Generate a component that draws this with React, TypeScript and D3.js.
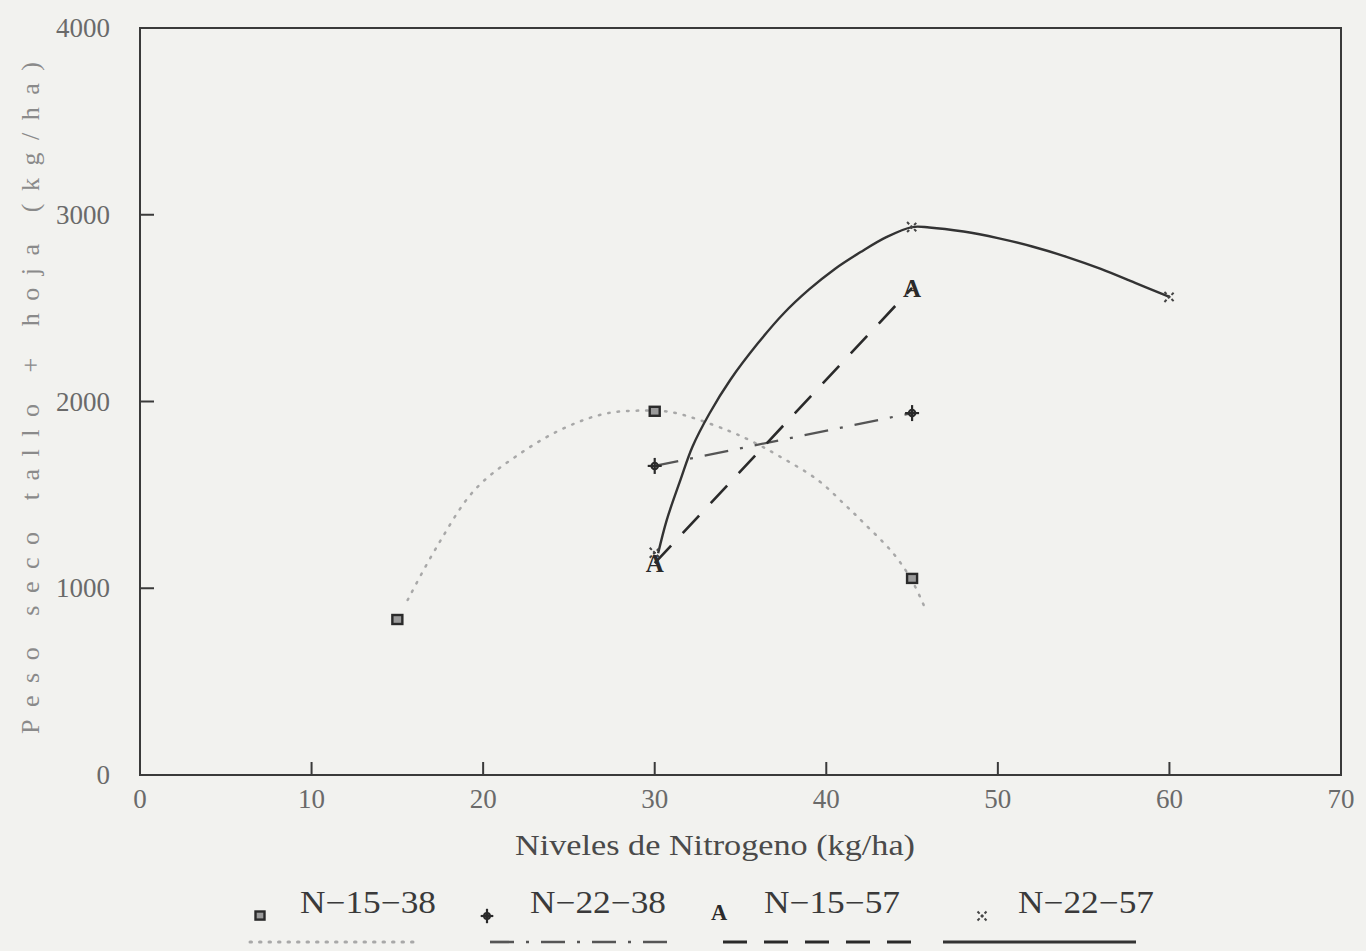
import React from 'react';
import * as d3 from 'd3';

// x ticks and y ticks as printed on the figure
const xTicks = [0, 10, 20, 30, 40, 50, 60, 70];
const yTicks = [0, 1000, 2000, 3000, 4000];

// observed points (Nitrogen kg/ha vs peso seco kg/ha)
const n1538x = [15, 30, 45];
const n1538 = [830, 1945, 1050];
const n2238x = [30, 45];
const n2238 = [1655, 1938];
const n1557x = [30, 45];
const n1557 = [1135, 2608];
const n2257x = [30, 45, 60];
const n2257 = [1190, 2934, 2560];

// fitted curves
const fit1538x = [15.6, 17.3, 19.5, 22.2, 24.9, 27.3, 30.1, 31.3, 34.2, 35.7, 37.3, 39.5, 41.1, 42.2, 43.9, 45.0, 45.8];
const fit1538 = [937, 1222, 1526, 1724, 1865, 1938, 1950, 1937, 1847, 1785, 1705, 1580, 1446, 1348, 1187, 1040, 884];
const fit2257x = [30.2, 30.7, 31.5, 32.2, 33.2, 34.4, 36.0, 37.5, 39.0, 40.5, 42.0, 43.5, 45.0, 46.0, 48.0, 50.0, 52.0, 54.0, 56.0, 58.0, 60.0];
const fit2257 = [1187, 1365, 1580, 1758, 1937, 2115, 2310, 2470, 2600, 2710, 2800, 2880, 2934, 2932, 2910, 2875, 2830, 2775, 2710, 2635, 2560];

const seriesNames = ['N\u221215\u221238', 'N\u221222\u221238', 'N\u221215\u221257', 'N\u221222\u221257'];

const W = 1366;
const H = 951;
const frame = { left: 140, right: 1341, top: 28, bottom: 775 };
const serif = '"Liberation Serif", "Times New Roman", Times, serif';

const x = d3.scaleLinear().domain([0, 70]).range([frame.left, frame.right]);
const y = d3.scaleLinear().domain([0, 4000]).range([frame.bottom, frame.top]);

const zip = (xs: number[], ys: number[]) => xs.map((v, i) => [v, ys[i]] as [number, number]);

const smooth = d3.line<[number, number]>()
  .x(d => x(d[0]))
  .y(d => y(d[1]))
  .curve(d3.curveCatmullRom.alpha(0.5));
const straight = d3.line<[number, number]>()
  .x(d => x(d[0]))
  .y(d => y(d[1]));

const ink = '#2a2a2a';

// line styles per series (dotted, dash-dot, dashed, solid)
const styles = [
  { stroke: '#a8a8a8', width: 2.5, dash: '1.5 8', cap: 'round' },
  { stroke: '#555', width: 2.2, dash: '24 12 3 12', cap: 'butt' },
  { stroke: ink, width: 2.6, dash: '24 17', cap: 'butt' },
  { stroke: '#333', width: 2.4, dash: 'none', cap: 'butt' },
];

function Marker({ kind, cx, cy, s = 1 }: { kind: number; cx: number; cy: number; s?: number }) {
  if (kind === 0) {
    return <rect x={cx - 5 * s} y={cy - 5 * s} width={10 * s} height={9 * s} fill="#9a9a9a" stroke={ink} strokeWidth={2.4} />;
  }
  if (kind === 1) {
    return (
      <g stroke={ink} strokeWidth={2.2} fill="none">
        <line x1={cx} x2={cx} y1={cy - 8 * s} y2={cy + 8 * s} />
        <line x1={cx - 7 * s} x2={cx + 7 * s} y1={cy} y2={cy} />
        <circle cx={cx} cy={cy} r={3.2 * s} />
      </g>
    );
  }
  if (kind === 2) {
    return (
      <text x={cx} y={cy + 9 * s} textAnchor="middle" fontFamily={serif} fontWeight="bold"
        fontSize={25 * s} fill={ink}>A</text>
    );
  }
  return (
    <g stroke="#444" strokeWidth={2} strokeDasharray="3 2">
      <line x1={cx - 5 * s} x2={cx + 5 * s} y1={cy - 5 * s} y2={cy + 5 * s} />
      <line x1={cx - 5 * s} x2={cx + 5 * s} y1={cy + 5 * s} y2={cy - 5 * s} />
    </g>
  );
}

export default function App() {
  const lines = [
    smooth(zip(fit1538x, fit1538)),
    straight(zip(n2238x, n2238)),
    straight(zip(n1557x, n1557)),
    smooth(zip(fit2257x, fit2257)),
  ];
  const points = [
    zip(n1538x, n1538),
    zip(n2238x, n2238),
    zip(n1557x, n1557),
    zip(n2257x, n2257),
  ];
  // legend layout: marker x, label x, sample line start/end
  const legend = [
    { mx: 260, tx: 300, l0: 250, l1: 413 },
    { mx: 487, tx: 530, l0: 490, l1: 672 },
    { mx: 719, tx: 764, l0: 723, l1: 911 },
    { mx: 982, tx: 1018, l0: 943, l1: 1136 },
  ];
  const drawOrder = [0, 1, 3, 2];

  return (
    <svg width={W} height={H} style={{ position: 'fixed', left: 0, top: 0, background: '#f2f2ef' }}>
      <rect x={0} y={0} width={W} height={H} fill="#f2f2ef" />

      {/* frame */}
      <rect x={frame.left} y={frame.top} width={frame.right - frame.left} height={frame.bottom - frame.top}
        fill="none" stroke="#3a3a3a" strokeWidth={2} />

      {/* x ticks, pointing inward */}
      {xTicks.map(t => (
        <g key={'xt' + t}>
          {t > 0 && t < 70 && (
            <line x1={x(t)} x2={x(t)} y1={frame.bottom} y2={frame.bottom - 13} stroke="#3a3a3a" strokeWidth={2} />
          )}
          <text x={x(t)} y={808} textAnchor="middle" fontFamily={serif} fontSize={27} fill="#6a6a6a">{t}</text>
        </g>
      ))}

      {/* y ticks */}
      {yTicks.map(t => (
        <g key={'yt' + t}>
          {t > 0 && t < 4000 && (
            <line x1={frame.left} x2={frame.left + 14} y1={y(t)} y2={y(t)} stroke="#3a3a3a" strokeWidth={2} />
          )}
          <text x={110} y={y(t) + 9} textAnchor="end" fontFamily={serif} fontSize={27} fill="#6a6a6a">{t}</text>
        </g>
      ))}

      {/* axis titles */}
      <text x={715} y={855} textAnchor="middle" fontFamily={serif} fontSize={30} fill="#4a4a4a"
        textLength={400} lengthAdjust="spacingAndGlyphs">Niveles de Nitrogeno (kg/ha)</text>
      <text transform="translate(39,398) rotate(-90)" textAnchor="middle" fontFamily={serif} fontSize={26}
        fill="#8a8a8a" textLength={672} lengthAdjust="spacing">Peso seco tallo + hoja (kg/ha)</text>

      {/* fitted lines */}
      {lines.map((d, i) => (
        <path key={'l' + i} d={d || ''} fill="none" stroke={styles[i].stroke} strokeWidth={styles[i].width}
          strokeDasharray={styles[i].dash} strokeLinecap={styles[i].cap as any} />
      ))}

      {/* observed markers */}
      {drawOrder.map(k => (
        <g key={'m' + k}>
          {points[k].map((p, j) => (
            <Marker key={j} kind={k} cx={x(p[0])} cy={y(p[1])} />
          ))}
        </g>
      ))}

      {/* legend */}
      {legend.map((l, i) => (
        <g key={'lg' + i}>
          <Marker kind={i} cx={l.mx} cy={i === 2 ? 912 : 916} s={0.9} />
          <text x={l.tx} y={913} fontFamily={serif} fontSize={31} fill="#3a3a3a"
            textLength={136} lengthAdjust="spacingAndGlyphs">{seriesNames[i]}</text>
          <line x1={l.l0} x2={l.l1} y1={942} y2={942} stroke={styles[i].stroke} strokeWidth={styles[i].width + 0.5}
            strokeDasharray={styles[i].dash} strokeLinecap={styles[i].cap as any} />
        </g>
      ))}
    </svg>
  );
}
